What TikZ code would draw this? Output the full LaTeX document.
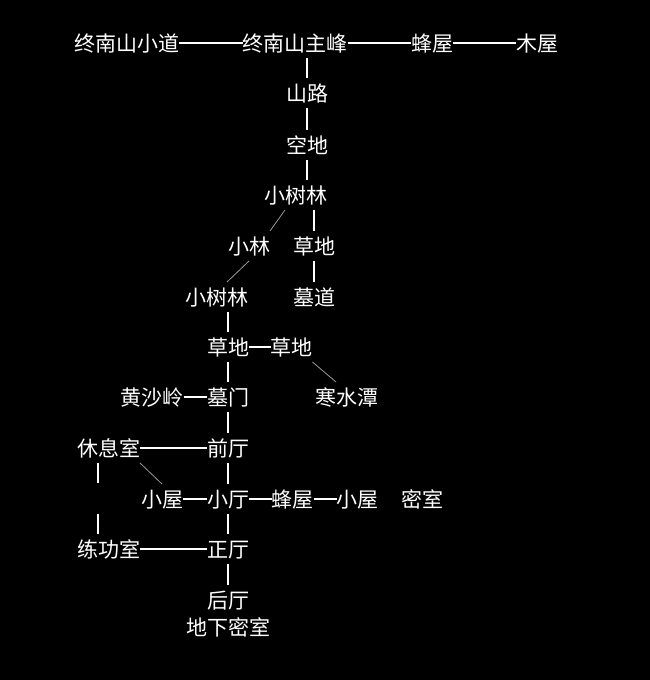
\documentclass[tikz,border=0pt]{standalone}
\usepackage{fontspec}
\setmainfont{Noto Sans CJK SC}
\begin{document}
\begin{tikzpicture}[x=1pt,y=-1pt,
  lbl/.style={text=white, font=\fontsize{21pt}{21pt}\selectfont, inner sep=0pt, outer sep=0pt,
    text height=18.5pt, text depth=2.5pt, minimum height=30pt},
  hbar/.style={draw=white, line width=1.6pt},
  vbar/.style={draw=white, line width=2.6pt},
  diag/.style={draw=gray!80, line width=0.8pt}]
\fill[black] (0,0) rectangle (650,680);
\useasboundingbox (0,0) rectangle (650,680);
% nodes
\node[lbl] (zndao) at (126.5,43) {终南山小道};
\node[lbl] (znzf) at (295,43) {终南山主峰};
\node[lbl] (fw1) at (432,43) {蜂屋};
\node[lbl] (mw) at (537,43) {木屋};
\node[lbl] (sl) at (307,93) {山路};
\node[lbl] (kd) at (307,145) {空地};
\node[lbl] (xsl) at (296,195) {小树林};
\node[lbl] (xl) at (249,246) {小林};
\node[lbl] (cd1) at (314,246) {草地};
\node[lbl] (xsl2) at (216.5,297) {小树林};
\node[lbl] (md) at (314,297) {墓道};
\node[lbl] (cdA) at (228,347) {草地};
\node[lbl] (cdB) at (291.5,347) {草地};
\node[lbl] (hsl) at (152,397) {黄沙岭};
\node[lbl] (mm) at (228,397) {墓门};
\node[lbl] (hst) at (347,397) {寒水潭};
\node[lbl] (xxs) at (108.5,448) {休息室};
\node[lbl] (qt) at (228,448) {前厅};
\node[lbl] (xw1) at (162,499) {小屋};
\node[lbl] (xt) at (228,499) {小厅};
\node[lbl] (fw2) at (292.5,499) {蜂屋};
\node[lbl] (xw2) at (357.5,499) {小屋};
\node[lbl] (ms) at (422.5,499) {密室};
\node[lbl] (lgs) at (108.5,549) {练功室};
\node[lbl] (zt) at (228,549) {正厅};
\node[lbl] (ht) at (228,600) {后厅};
\node[lbl] (dxms) at (228,627) {地下密室};
% horizontal connectors
\draw[hbar] (zndao) -- (znzf);
\draw[hbar] (znzf) -- (fw1);
\draw[hbar] (fw1) -- (mw);
\draw[hbar] (cdA) -- (cdB);
\draw[hbar] (hsl) -- (mm);
\draw[hbar] (xxs) -- (qt);
\draw[hbar] (xw1) -- (xt);
\draw[hbar] (xt) -- (fw2);
\draw[hbar] (fw2) -- (xw2);
\draw[hbar] (lgs) -- (zt);
% vertical connectors
\draw[vbar] (znzf.south -| sl) -- (sl.north);
\draw[vbar] (sl.south) -- (kd.north);
\draw[vbar] (kd.south) -- (kd.south |- xsl.north);
\draw[vbar] (xsl.south -| cd1) -- (cd1.north);
\draw[vbar] (cd1.south) -- (md.north);
\draw[vbar] (xsl2.south -| cdA) -- (cdA.north);
\draw[vbar] (cdA.south) -- (mm.north);
\draw[vbar] (mm.south) -- (qt.north);
\draw[vbar] (qt.south) -- (xt.north);
\draw[vbar] (xt.south) -- (zt.north);
\draw[vbar] (zt.south) -- (ht.north);
\draw[vbar, dash pattern=on 20pt off 31pt] ([xshift=-10.5pt]xxs.south) -- ([xshift=-10.5pt]lgs.north);
% diagonal connectors
\draw[diag] ([xshift=-11pt]xsl.south) -- (xl.north east);
\draw[diag] (xl.south) -- ([xshift=10.5pt]xsl2.north);
\draw[diag] (cdB.south east) -- ([xshift=-11pt]hst.north);
\draw[diag] (xxs.south east) -- (xw1.north);
\end{tikzpicture}
\end{document}
